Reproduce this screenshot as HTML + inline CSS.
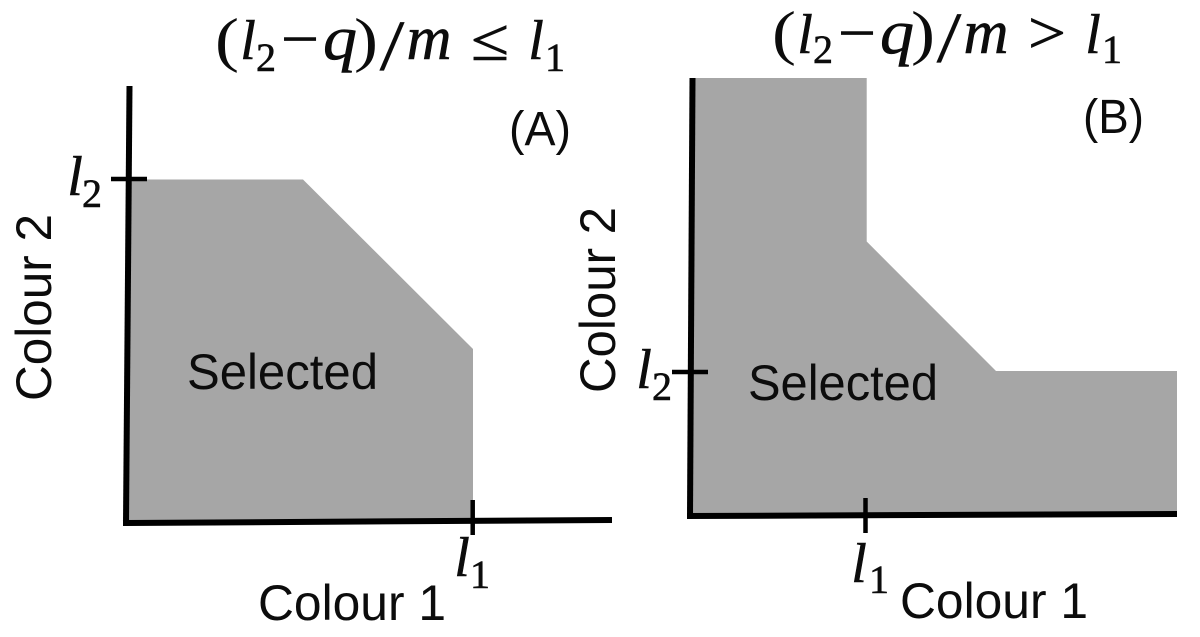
<!DOCTYPE html>
<html>
<head>
<meta charset="utf-8">
<style>
html,body{margin:0;padding:0;background:#fff;width:1200px;height:637px;overflow:hidden}
svg{display:block}
.s{font-family:"Liberation Sans",sans-serif;fill:#0c0c0c;font-size:50px}
.m{font-family:"Liberation Serif",serif;fill:#0c0c0c;font-size:56px;text-anchor:middle;stroke:#0c0c0c;stroke-width:.6px}
.i{font-style:italic}
.b{font-size:40px}
.o{font-size:60px}
.v{font-size:62px}
.p{font-size:60px;stroke-width:0}
.d{font-size:72px;stroke-width:.2px}
</style>
</head>
<body>
<svg width="1200" height="637" viewBox="0 0 1200 637" xmlns="http://www.w3.org/2000/svg">
<rect width="1200" height="637" fill="#fff"/>
<polygon points="128,179.5 303,179.5 473,349 473,522 128,522" fill="#a6a6a6"/>
<polygon points="691,78 866.7,78 866.7,241.5 996,371 1177,371 1177,515 691,515" fill="#a6a6a6"/>
<g stroke="#000" stroke-width="6" fill="none">
<path d="M129.5,86 L126,523"/>
<path d="M123,523 L612,520"/>
<path d="M692.5,78 L690,516"/>
<path d="M687,516 L1177,514"/>
</g>
<g stroke="#000" stroke-width="4.5" fill="none">
<path d="M111,179 H147"/>
<path d="M472.7,500 V535"/>
<path d="M672,372 H708"/>
<path d="M865.5,498 V533"/>
</g>

<!-- Formula A -->
<text class="m p" x="227" y="60" textLength="24" lengthAdjust="spacingAndGlyphs">(</text>
<text class="m i" x="248" y="59">l</text>
<text class="m b" x="266" y="71">2</text>
<text class="m o" x="300" y="59" textLength="38" lengthAdjust="spacingAndGlyphs">−</text>
<text class="m i v" x="340" y="59" textLength="34" lengthAdjust="spacingAndGlyphs">q</text>
<text class="m p" x="366" y="60" textLength="24" lengthAdjust="spacingAndGlyphs">)</text>
<text class="m d" x="392" y="70" textLength="25" lengthAdjust="spacingAndGlyphs">/</text>
<text class="m i v" x="429" y="59" textLength="45" lengthAdjust="spacingAndGlyphs">m</text>
<text class="m o" x="490" y="60" textLength="38" lengthAdjust="spacingAndGlyphs">≤</text>
<text class="m i" x="536" y="59">l</text>
<text class="m b" x="555" y="71">1</text>

<!-- Formula B -->
<text class="m p" x="784" y="53" textLength="24" lengthAdjust="spacingAndGlyphs">(</text>
<text class="m i" x="805" y="53">l</text>
<text class="m b" x="823" y="63">2</text>
<text class="m o" x="857" y="53" textLength="38" lengthAdjust="spacingAndGlyphs">−</text>
<text class="m i v" x="897" y="53" textLength="34" lengthAdjust="spacingAndGlyphs">q</text>
<text class="m p" x="923" y="53" textLength="24" lengthAdjust="spacingAndGlyphs">)</text>
<text class="m d" x="949" y="62" textLength="25" lengthAdjust="spacingAndGlyphs">/</text>
<text class="m i v" x="986" y="53" textLength="45" lengthAdjust="spacingAndGlyphs">m</text>
<text class="m o" x="1047" y="53" textLength="38" lengthAdjust="spacingAndGlyphs">&gt;</text>
<text class="m i" x="1093" y="53">l</text>
<text class="m b" x="1112" y="63">1</text>

<text class="s" x="509" y="145" textLength="62" lengthAdjust="spacingAndGlyphs" style="font-size:48px">(A)</text>
<text class="s" x="1083" y="133" textLength="61" lengthAdjust="spacingAndGlyphs" style="font-size:48px">(B)</text>
<text class="s" x="187" y="389" textLength="191" lengthAdjust="spacingAndGlyphs">Selected</text>
<text class="s" x="748" y="400" textLength="190" lengthAdjust="spacingAndGlyphs">Selected</text>
<text class="s" x="258" y="620" textLength="188" lengthAdjust="spacingAndGlyphs">Colour 1</text>
<text class="s" x="900" y="618" textLength="188" lengthAdjust="spacingAndGlyphs">Colour 1</text>
<text class="s" transform="translate(51,401) rotate(-90)" textLength="187" lengthAdjust="spacingAndGlyphs">Colour 2</text>
<text class="s" transform="translate(615,393) rotate(-90)" textLength="186" lengthAdjust="spacingAndGlyphs">Colour 2</text>

<!-- Tick labels -->
<text class="m i" x="75" y="195">l</text><text class="m b" x="92" y="207">2</text>
<text class="m i" x="644" y="388">l</text><text class="m b" x="662" y="400">2</text>
<text class="m i" x="462" y="576">l</text><text class="m b" x="480" y="588">1</text>
<text class="m i" x="859" y="582">l</text><text class="m b" x="879" y="593">1</text>
</svg>
</body>
</html>
